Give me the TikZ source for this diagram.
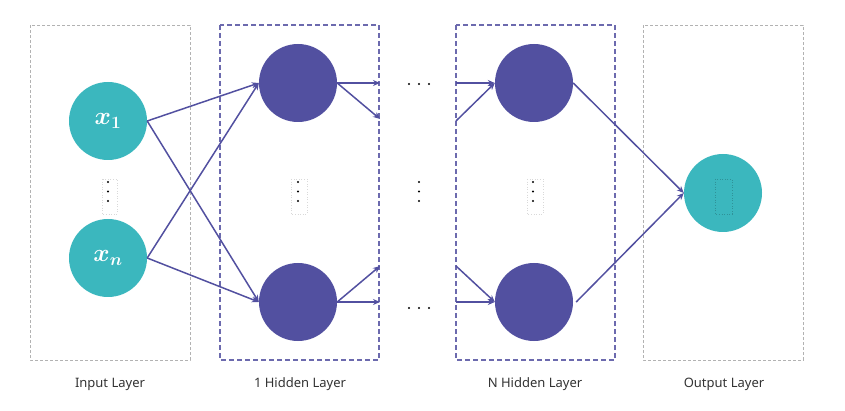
\documentclass[tikz,border=0pt]{standalone}
\usepackage{fontspec}
\usepackage{bm}
\setmainfont{Noto Sans}
\usetikzlibrary{arrows.meta}
\definecolor{tealc}{HTML}{3BB7BE}
\definecolor{purp}{HTML}{5250A0}
\tikzset{
  inneuron/.style={circle, fill=tealc, minimum size=78pt, inner sep=0pt, text=white, font=\fontsize{25}{27}\selectfont},
  hidneuron/.style={circle, fill=purp, minimum size=78pt, inner sep=0pt},
  greybox/.style={draw=black!30, dash pattern=on 3pt off 2pt, line width=0.9pt},
  purpbox/.style={draw=purp!85, dash pattern=on 5pt off 3pt, line width=1.3pt},
  conn/.style={draw=purp, line width=1.5pt, -{Stealth[length=7pt,width=6pt]}},
  layerlabel/.style={font=\fontsize{13}{15}\selectfont, text=black!80},
  tofu/.style={draw=black!15, dotted, line width=0.6pt},
  smalldot/.style={circle, fill=black, minimum size=2.4pt, inner sep=0pt}
}
\begin{document}
\begin{tikzpicture}[x=1pt,y=-1pt]
\useasboundingbox (0,0) rectangle (845,411);
% layer boxes
\draw[greybox] (30,25) rectangle (190,360);
\draw[purpbox] (220,25) rectangle (379,360);
\draw[purpbox] (456,25) rectangle (615,360);
\draw[greybox] (643,25) rectangle (803,360);
% neurons
\node[inneuron] (xa) at (108,121) {$\bm{x_1}$};
\node[inneuron] (xb) at (108,258) {$\bm{x_n}$};
\node[hidneuron] (ha) at (298,83) {};
\node[hidneuron] (hb) at (298,302) {};
\node[hidneuron] (na) at (534,83) {};
\node[hidneuron] (nb) at (534,302) {};
\node[inneuron] (out) at (723,193) {};
% free ends
\coordinate (raa) at (380,83);
\coordinate (rab) at (380,119);
\coordinate (rba) at (380,302);
\coordinate (rbb) at (380,266);
\coordinate (laa) at (456,83);
\coordinate (lab) at (456,121);
\coordinate (lba) at (456,302);
\coordinate (lbb) at (456,266);
% connectors
\draw[conn] (xa.east) -- (ha.west);
\draw[conn] (xa.east) -- (hb.west);
\draw[conn] (xb.east) -- (ha.west);
\draw[conn] (xb.east) -- (hb.west);
\draw[conn] (ha.east) -- (raa);
\draw[conn] (ha.east) -- (rab);
\draw[conn] (hb.east) -- (rba);
\draw[conn] (hb.east) -- (rbb);
\draw[conn] (laa) -- (na.west);
\draw[conn] (lab) -- (na.west);
\draw[conn] (lba) -- (nb.west);
\draw[conn] (lbb) -- (nb.west);
\draw[conn] (na.east) -- (out.west);
\draw[conn] ([xshift=3pt]nb.east) -- (out.west);
% vertical dots with faint boxes
\foreach \n/\x in {vi/108, vh/298, vm/419, vn/533} {
  \node[smalldot] (\n a) at (\x,182) {};
  \node[smalldot] (\n b) at (\x,191.5) {};
  \node[smalldot] (\n c) at (\x,201) {};
}
\draw[tofu] (102,179) rectangle (117,214);
\draw[tofu] (291,179) rectangle (307,214);
\draw[tofu] (527,179) rectangle (543,214);
\draw[draw=black!20!tealc, dotted, line width=0.6pt] (715,179) rectangle (732,214);
% horizontal dots
\foreach \n/\y in {ht/84, hb/308} {
  \node[smalldot] (\n a) at (409,\y) {};
  \node[smalldot] (\n b) at (419,\y) {};
  \node[smalldot] (\n c) at (429,\y) {};
}
% labels
\node[layerlabel] (la) at (110,384) {Input Layer};
\node[layerlabel] (lb) at (300,384) {1 Hidden Layer};
\node[layerlabel] (lc) at (535,384) {N Hidden Layer};
\node[layerlabel] (ld) at (724,384) {Output Layer};
\end{tikzpicture}
\end{document}
